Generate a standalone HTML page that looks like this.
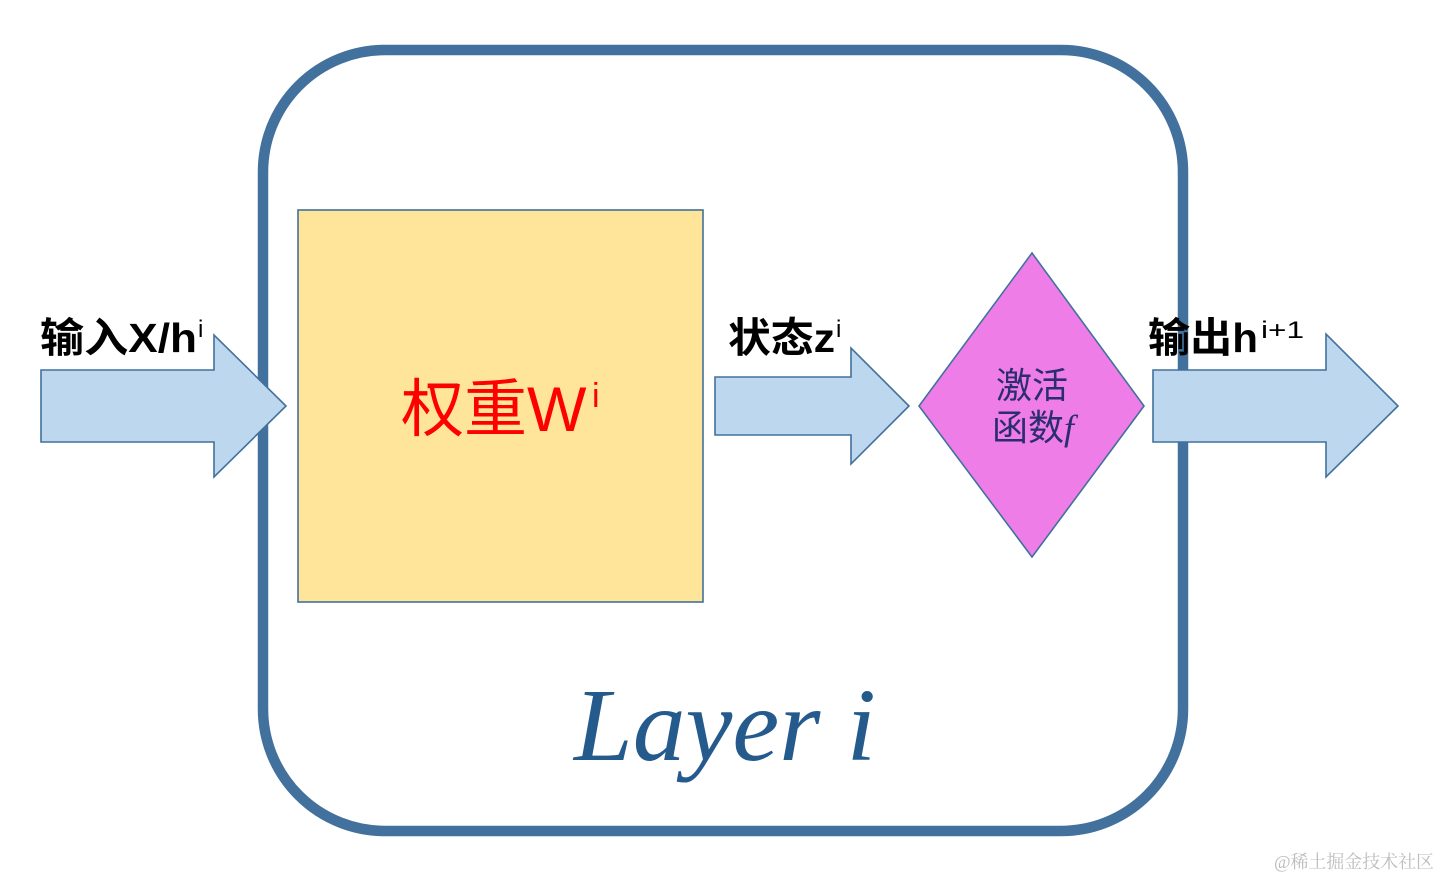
<!DOCTYPE html>
<html><head><meta charset="utf-8"><style>
html,body{margin:0;padding:0;background:#fff;}
svg{display:block;}
</style></head><body>
<svg width="1440" height="879" viewBox="0 0 1440 879" xmlns="http://www.w3.org/2000/svg">
<rect x="0" y="0" width="1440" height="879" fill="#ffffff"/>
<!-- Layer container -->
<rect x="263" y="50" width="920" height="781" rx="122" ry="122" fill="none" stroke="#41719c" stroke-width="10.5"/>
<!-- weight box -->
<rect x="298" y="210" width="405" height="392" fill="#fee599" stroke="#41719c" stroke-width="1.6"/>
<text x="401" y="431" font-family="'Liberation Sans','Noto Sans CJK SC',sans-serif" font-size="63" fill="#ff0000">权重W</text>
<text x="592" y="407" font-family="'Liberation Sans',sans-serif" font-size="34" fill="#ff0000">i</text>
<!-- arrows -->
<polygon points="41,370 214,370 214,335 286,406 214,477 214,442 41,442" fill="#bdd7ee" stroke="#41719c" stroke-width="1.6"/>
<polygon points="715,377 851,377 851,348 909,406 851,464 851,435 715,435" fill="#bdd7ee" stroke="#41719c" stroke-width="1.6"/>
<polygon points="1153,370 1326,370 1326,334 1398,406 1326,477 1326,442 1153,442" fill="#bdd7ee" stroke="#41719c" stroke-width="1.6"/>
<!-- diamond -->
<polygon points="1032,253 1144,406 1032,557 919,406" fill="#ee7de8" stroke="#41719c" stroke-width="1.6"/>
<text x="1032" y="398" text-anchor="middle" font-family="'Liberation Sans','Noto Sans CJK SC',sans-serif" font-size="36" fill="#2b2d70">激活</text>
<text x="992" y="440" font-family="'Liberation Sans','Noto Sans CJK SC',sans-serif" font-size="36" fill="#2b2d70">函数<tspan font-family="'Liberation Serif',serif" font-style="italic">f</tspan></text>
<!-- labels -->
<text x="40" y="352" font-family="'Liberation Sans','Noto Sans CJK SC',sans-serif" font-size="41" font-weight="bold" fill="#000" textLength="157" lengthAdjust="spacingAndGlyphs">输入X/h</text>
<text x="198" y="337" font-family="'Liberation Sans',sans-serif" font-size="24" fill="#000">i</text>
<text x="728" y="352" font-family="'Liberation Sans','Noto Sans CJK SC',sans-serif" font-size="41" font-weight="bold" fill="#000" textLength="107" lengthAdjust="spacingAndGlyphs">状态z</text>
<text x="836" y="337" font-family="'Liberation Sans',sans-serif" font-size="24" fill="#000">i</text>
<text x="1148" y="352" font-family="'Liberation Sans','Noto Sans CJK SC',sans-serif" font-size="41" font-weight="bold" fill="#000" textLength="110" lengthAdjust="spacingAndGlyphs">输出h</text>
<text x="1261" y="338" font-family="'Liberation Sans',sans-serif" font-size="24" fill="#000" textLength="43" lengthAdjust="spacingAndGlyphs">i+1</text>
<!-- Layer i -->
<text x="574" y="760" font-family="'Liberation Serif',serif" font-style="italic" font-size="104" fill="#245a8c" textLength="302" lengthAdjust="spacingAndGlyphs">Layer i</text>
<!-- watermark -->
<text x="1274" y="868" font-family="'Liberation Serif','Noto Serif CJK SC',serif" font-size="18" fill="#bdbdbd" textLength="160" lengthAdjust="spacing">@稀土掘金技术社区</text>
</svg>
</body></html>
